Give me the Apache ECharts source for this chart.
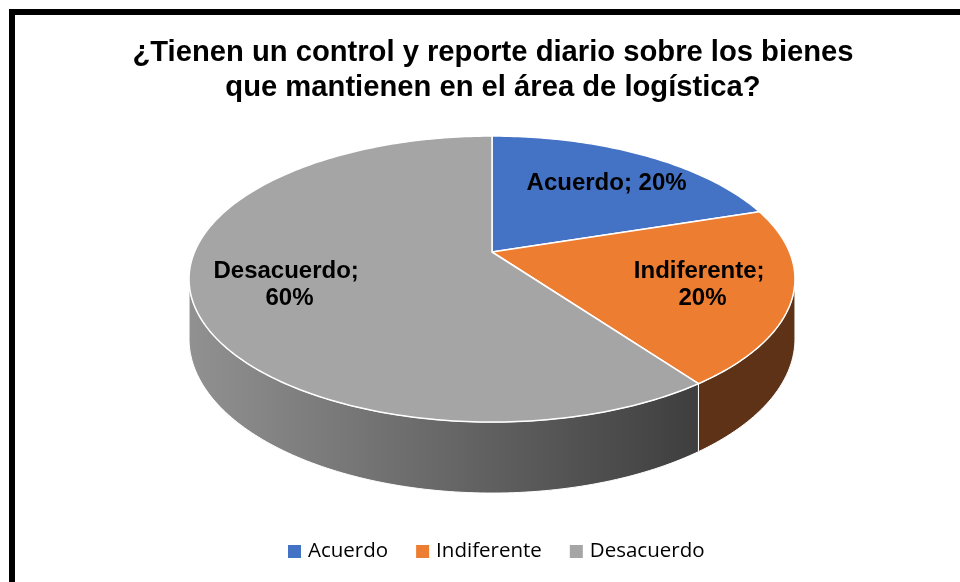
<!DOCTYPE html>
<html><head><meta charset="utf-8">
<script src="https://cdn.jsdelivr.net/npm/echarts@6/dist/echarts.min.js"></script>
<style>html,body{margin:0;padding:0;background:#fff}#c{width:960px;height:582px}</style>
</head><body><div id="c"></div>
<script>
// ---- data ----
const titleText = '¿Tienen un control y reporte diario sobre los bienes\nque mantienen en el área de logística?';
const categories = ['Acuerdo', 'Indiferente', 'Desacuerdo'];
const values = [20, 20, 60];

// ---- styles ----
const topColors = ['#4472C4', '#ED7D31', '#A5A5A5'];
const sideColors = [
  '#2F528F',
  '#5E3216',
  {type: 'linear', x: 0, y: 0, x2: 1, y2: 0, colorStops: [{offset: 0, color: '#919191'}, {offset: 1, color: '#3E3E3E'}]}
];
// perspective ellipse parameters (layout)
const P = {cx: 492, cy: 252, a: 297.5, b: 137.9, k: 0.189, depth: 57.6};

const total = values.reduce((s, v) => s + v, 0);
const starts = [];
(function () { let acc = 0; values.forEach(v => { starts.push(acc); acc += v; }); })();

function proj(theta, f, drop) {
  const u = f * Math.sin(theta), v = f * Math.cos(theta), w = 1 + P.k * v;
  return [P.cx + P.a * u / w, P.cy - P.b * v / w + (drop || 0) / w];
}
function arc(s, e, drop) {
  const pts = [];
  const n = Math.max(2, Math.ceil((e - s) / (Math.PI / 180)));
  for (let j = 0; j <= n; j++) pts.push(proj(s + (e - s) * j / n, 1, drop));
  return pts;
}
const thR = Math.acos(-P.k), thL = 2 * Math.PI - thR;

function makeRender(i) {
  return function (params, api) {
    const val = api.value(0);
    const s = starts[i] / total * 2 * Math.PI;
    const e = s + val / total * 2 * Math.PI;
    const children = [];
    const ss = Math.max(s, thR), se = Math.min(e, thL);
    if (se > ss) {
      const topArc = arc(ss, se, 0);
      const botArc = arc(ss, se, P.depth).reverse();
      children.push({
        type: 'polygon', z2: 1,
        shape: {points: topArc.concat(botArc)},
        style: {fill: sideColors[i], stroke: '#ffffff', lineWidth: 1}
      });
    }
    const pts = [proj(0, 0, 0)].concat(arc(s, e, 0));
    children.push({
      type: 'polygon', z2: 2,
      shape: {points: pts},
      style: {fill: topColors[i], stroke: '#ffffff', lineWidth: 1.5, lineJoin: 'round'}
    });
    const mid = (s + e) / 2;
    const lp = proj(mid, 0.7, 0);
    const pct = Math.round(val / total * 100);
    children.push({
      type: 'text', z2: 10,
      style: {
        text: categories[i] + '; ' + pct + '%',
        x: lp[0] + 4, y: lp[1] + 2,
        align: 'center', verticalAlign: 'middle',
        font: 'bold 24px "Liberation Sans", Arial, sans-serif',
        fill: '#000000', width: 170, overflow: 'break', lineHeight: 27
      }
    });
    return {type: 'group', children: children};
  };
}

const chart = echarts.init(document.getElementById('c'), null, {renderer: 'canvas'});
chart.setOption({
  animation: false,
  backgroundColor: '#ffffff',
  color: topColors,
  legend: {
    data: categories,
    left: 283, top: 536,
    icon: 'rect', itemWidth: 13, itemHeight: 13, itemGap: 28,
    textStyle: {fontFamily: '"Open Sans", "Noto Sans", sans-serif', fontSize: 20.5, color: '#000000', padding: [0, 0, 0, 2]}
  },
  graphic: [{
    type: 'rect', silent: true,
    shape: {x: 12, y: 12, width: 1000, height: 700},
    style: {fill: 'none', stroke: '#000000', lineWidth: 6}
  }, {
    type: 'text', silent: true,
    style: {
      text: titleText, x: 493, y: 35,
      align: 'center', verticalAlign: 'top',
      font: 'bold 29.2px "Liberation Sans", Arial, sans-serif',
      lineHeight: 35, fill: '#000000'
    }
  }],
  series: categories.map((name, i) => ({
    type: 'custom',
    name: name,
    coordinateSystem: 'none',
    itemStyle: {color: topColors[i]},
    renderItem: makeRender(i),
    data: [{name: name, value: [values[i]]}]
  }))
});
</script>
</body></html>
